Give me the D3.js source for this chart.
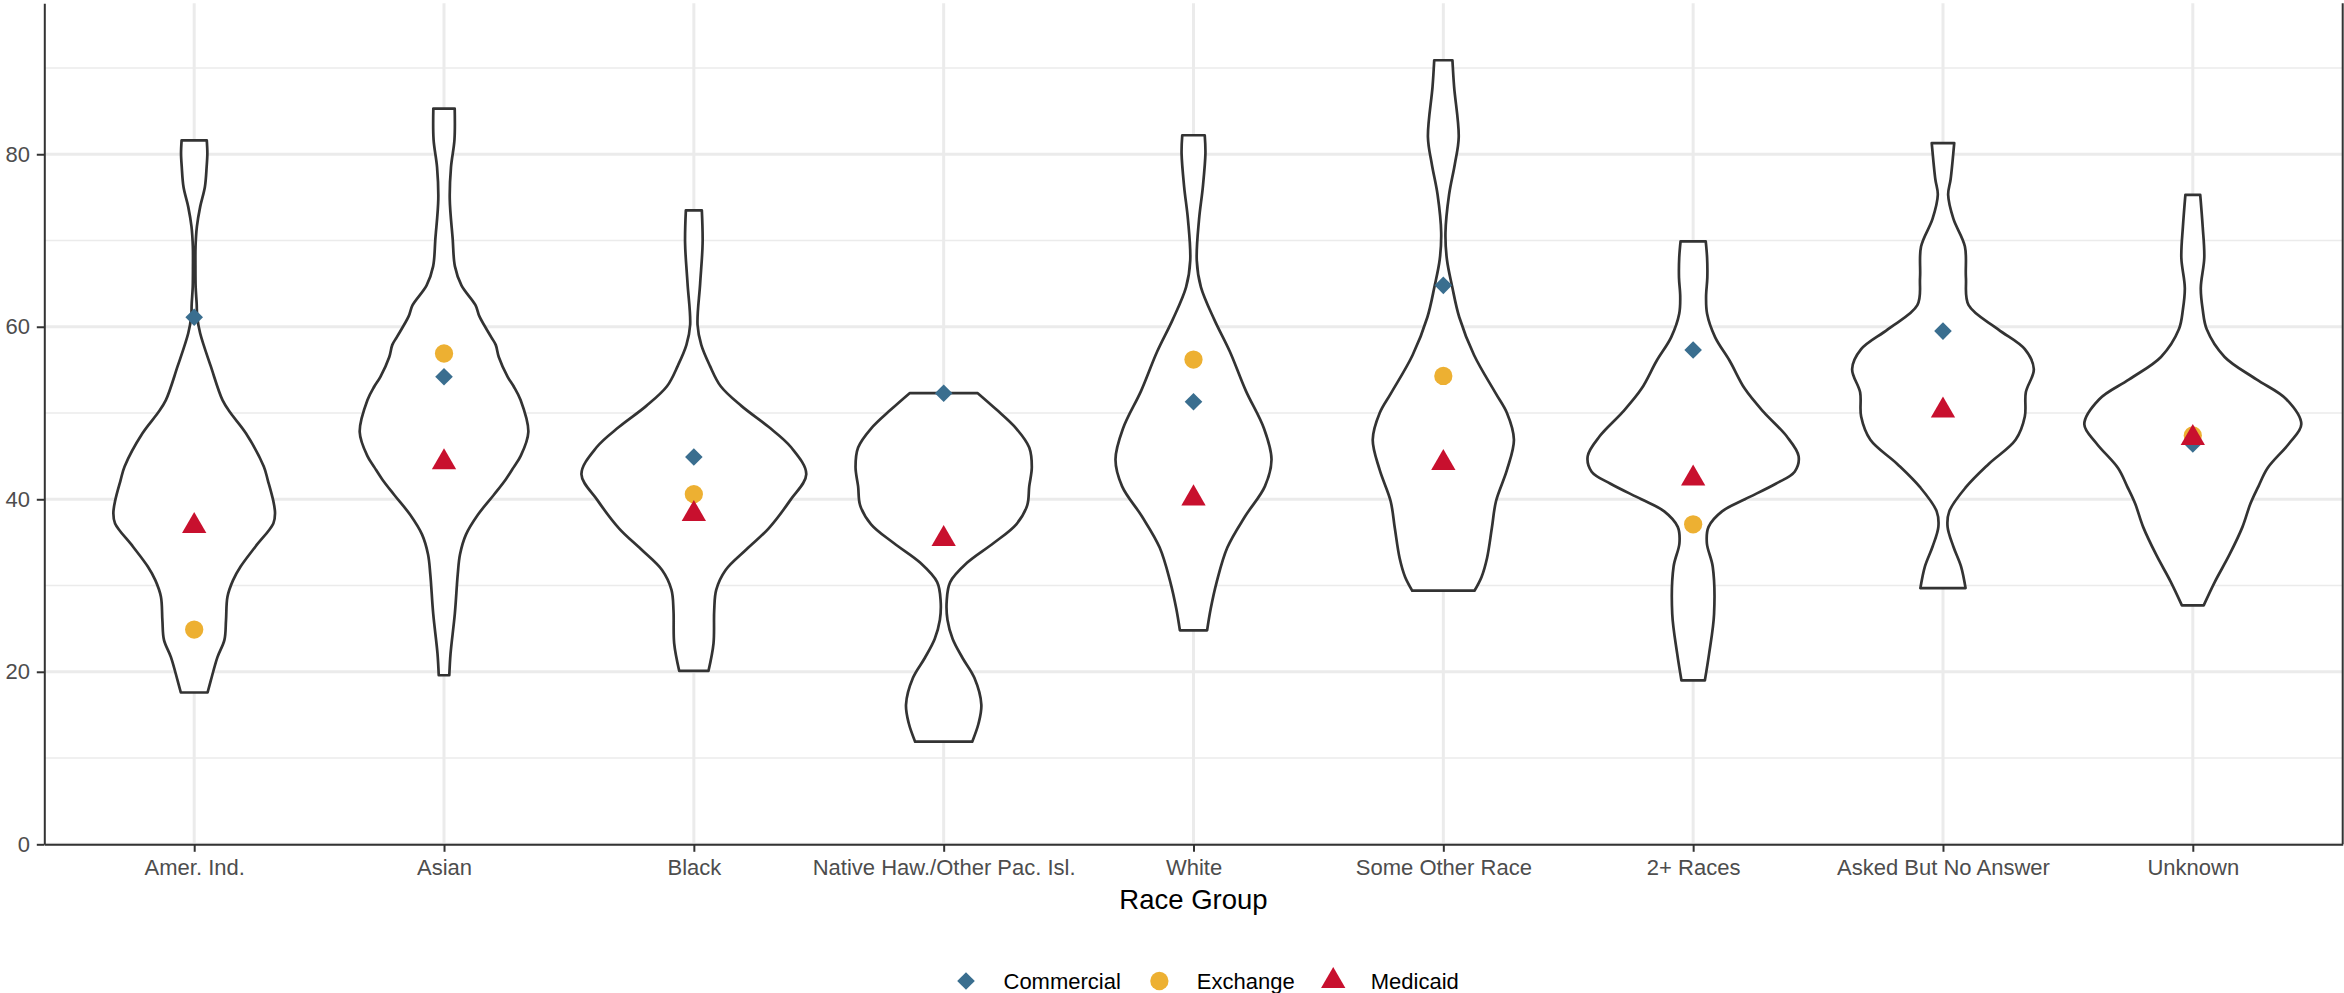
<!DOCTYPE html>
<html>
<head>
<meta charset="utf-8">
<script src="https://cdn.jsdelivr.net/npm/d3@7"></script>
<style>
  html, body { margin: 0; padding: 0; background: #fff; }
  svg { display: block; font-family: "Liberation Sans", Arial, Helvetica, sans-serif; }
</style>
</head>
<body>
<div id="viz-container"></div>
<script>
// Race groups on the x axis
const categories = [
    "Amer. Ind.", "Asian", "Black", "Native Haw./Other Pac. Isl.", "White",
    "Some Other Race", "2+ Races", "Asked But No Answer", "Unknown"
];

// Point values per payer (null = not shown)
const commercial = [61.1, 54.2, 44.9, 52.3, 51.3, 64.8, 57.3, 59.5, 46.4];
const exchange   = [24.9, 56.9, 40.6, null, 56.2, 54.3, 37.1, null, 47.4];
const medicaid   = [36.9, 44.3, 38.3, 35.4, 40.1, 44.2, 42.4, 50.3, 47.1];

const seriesNames = ["Commercial", "Exchange", "Medicaid"];
const yTicks = [0, 20, 40, 60, 80];
const yMinorTicks = [10, 30, 50, 70, 90];
const yMax = 97.5;

// Violin density profiles: [value, relative density]
const violinAmerInd = [[17.6,.119],[19,.148],[21.7,.207],[23.7,.269],[26,.283],[28.7,.296],[30.6,.345],[32.2,.413],[34.5,.544],[37.2,.704],[38.4,.719],[39.9,.702],[42.2,.655],[43.8,.619],[47.65,.46],[50,.324],[51.5,.252],[55.4,.148],[59.25,.053],[61.1,.027],[62.7,.022],[64.6,.013],[67,.011],[69.3,.012],[71.6,.024],[73.9,.053],[76.2,.095],[78.6,.111],[80.1,.117],[81.6,.112]];
const violinAsian = [[19.6,.047],[22.1,.058],[26.7,.096],[31.3,.122],[33.6,.142],[35.9,.195],[38.2,.301],[40.5,.442],[42.3,.549],[43.7,.619],[45,.681],[47.8,.75],[51.5,.681],[53.1,.619],[54.2,.566],[56.5,.487],[57.9,.46],[58.8,.42],[61.2,.315],[62.5,.28],[64.8,.155],[67,.097],[70.2,.077],[74.8,.051],[78.5,.062],[81.7,.093],[85.3,.095]];
const violinBlack = [[20.1,.13],[23.3,.175],[27.1,.181],[29.5,.199],[31.8,.283],[34.2,.469],[36.6,.664],[39.9,.858],[42.9,1],[46,.867],[48.4,.664],[50.8,.425],[53.1,.239],[55.5,.142],[57.9,.066],[60.2,.033],[65,.056],[69.7,.078],[73.5,.071]];
const violinNative = [[11.9,.254],[14,.31],[16.2,.335],[19.3,.273],[21.6,.168],[23.8,.08],[26,.034],[28.2,.027],[30.4,.058],[32.6,.205],[34.9,.442],[37.1,.646],[39.3,.743],[41.5,.761],[43.7,.784],[46,.761],[48.2,.646],[50.4,.469],[52.3,.303]];
const violinWhite = [[24.8,.121],[27.3,.153],[30.4,.206],[34.4,.301],[38,.458],[41.5,.635],[44.6,.694],[48.2,.627],[52.6,.465],[57.1,.324],[60.8,.186],[64.6,.066],[67.7,.029],[72.4,.049],[76.2,.083],[80.1,.106],[82.2,.1]];
const violinOther = [[29.4,.277],[31,.34],[33.2,.389],[36.7,.432],[39.8,.469],[43.4,.566],[46.9,.628],[50,.566],[52.3,.465],[56.7,.274],[61.1,.142],[64.7,.078],[67.8,.032],[70.9,.019],[75.3,.051],[78.9,.103],[82,.137],[87.8,.096],[90.9,.081]];
const violinTwoPlus = [[19,.104],[22.1,.142],[26.7,.186],[32.2,.174],[34.9,.122],[36.8,.137],[38.6,.257],[40,.46],[41.8,.735],[43.2,.903],[45,.938],[47.3,.832],[50.1,.628],[52.8,.46],[56,.327],[58.8,.195],[61.5,.124],[63.5,.115],[65.7,.126],[68,.124],[69.9,.112]];
const violinAsked = [[29.7,.201],[32.2,.161],[34.5,.093],[36.8,.041],[38.6,.056],[41.4,.204],[44.1,.407],[46.9,.646],[49.6,.728],[52.4,.737],[55.1,.808],[57.4,.728],[59.7,.491],[62.5,.228],[65.7,.204],[69.3,.195],[72.5,.093],[75.3,.046],[77.1,.068],[81.3,.1]];
const violinUnknown = [[27.7,.097],[30.4,.195],[33.6,.327],[36.8,.442],[39.5,.513],[41.5,.584],[43.6,.664],[46.5,.858],[48.7,.965],[51.6,.832],[53.9,.566],[56.5,.283],[59.7,.124],[62,.088],[64.5,.071],[68,.102],[71.6,.088],[75.3,.066]];

const violins = [violinAmerInd, violinAsian, violinBlack, violinNative, violinWhite,
                 violinOther, violinTwoPlus, violinAsked, violinUnknown];

function drawViolinChart({
    container = "#viz-container",
    width = 2344,
    height = 993,
    panel = { left: 44.3, right: 2342.7, top: 3.3, bottom: 844.3 }
}) {
    const svg = d3.select(container).append("svg")
        .attr("width", width)
        .attr("height", height);

    // Scales
    const x = d3.scalePoint()
        .domain(categories)
        .range([panel.left, panel.right])
        .padding(0.6);

    const y = d3.scaleLinear()
        .domain([0, yMax])
        .range([panel.bottom, panel.top]);

    // violin half width, ggplot width 0.9 of a category step
    const w = d3.scaleLinear()
        .domain([0, 1])
        .range([0, 0.45 * x.step()]);

    const color = d3.scaleOrdinal()
        .domain(seriesNames)
        .range(["#3a6e8f", "#edb032", "#c8102e"]);

    const shape = d3.scaleOrdinal()
        .domain(seriesNames)
        .range([
            d3.symbol().type(d3.symbolSquare).size(155)(),
            d3.symbol().type(d3.symbolCircle).size(262)(),
            d3.symbol().type(d3.symbolTriangle).size(256)()
        ]);
    const rotate = { Commercial: 45, Exchange: 0, Medicaid: 0 };

    // Grid lines
    const grid = svg.append("g");
    grid.selectAll(".minor")
        .data(yMinorTicks)
        .enter().append("line")
        .attr("x1", panel.left).attr("x2", panel.right)
        .attr("y1", d => y(d)).attr("y2", d => y(d))
        .attr("stroke", "#ebebeb").attr("stroke-width", 1.6);
    grid.selectAll(".major")
        .data(yTicks)
        .enter().append("line")
        .attr("x1", panel.left).attr("x2", panel.right)
        .attr("y1", d => y(d)).attr("y2", d => y(d))
        .attr("stroke", "#ebebeb").attr("stroke-width", 3);
    grid.selectAll(".vmajor")
        .data(categories)
        .enter().append("line")
        .attr("x1", d => x(d)).attr("x2", d => x(d))
        .attr("y1", panel.top).attr("y2", panel.bottom)
        .attr("stroke", "#ebebeb").attr("stroke-width", 3);

    // Violins
    const area = d3.area()
        .curve(d3.curveCatmullRom.alpha(0.5))
        .y(d => y(d[0]));

    svg.append("g").selectAll("path")
        .data(violins)
        .enter().append("path")
        .attr("d", (prof, i) => {
            const cx = x(categories[i]);
            return area.x0(d => cx - w(d[1])).x1(d => cx + w(d[1]))(prof);
        })
        .attr("fill", "#fff")
        .attr("stroke", "#333")
        .attr("stroke-width", 2.7)
        .attr("stroke-linejoin", "round");

    // Points, drawn Commercial -> Exchange -> Medicaid
    const seriesValues = [commercial, exchange, medicaid];
    seriesNames.forEach((name, s) => {
        const pts = categories
            .map((c, i) => ({ cat: c, v: seriesValues[s][i] }))
            .filter(d => d.v != null);
        svg.append("g").selectAll("path")
            .data(pts)
            .enter().append("path")
            .attr("d", shape(name))
            .attr("transform", d => `translate(${x(d.cat)},${y(d.v)}) rotate(${rotate[name]})`)
            .attr("fill", color(name));
    });

    // Axes
    const yAxis = svg.append("g")
        .attr("transform", `translate(${panel.left},0)`)
        .call(d3.axisLeft(y).tickValues(yTicks).tickSize(7.5).tickSizeOuter(0).tickPadding(6.8));

    const xAxis = svg.append("g")
        .attr("transform", `translate(0,${panel.bottom})`)
        .call(d3.axisBottom(x).tickSize(7.5).tickSizeOuter(0).tickPadding(7.6));

    [xAxis, yAxis].forEach(a => {
        a.select(".domain").attr("stroke", "#333").attr("stroke-width", 2);
        a.selectAll(".tick line").attr("stroke", "#333").attr("stroke-width", 2);
        a.selectAll(".tick text")
            .style("font-size", "22px")
            .style("fill", "#4d4d4d")
            .style("font-family", "'Liberation Sans', Arial, sans-serif");
    });

    // Right panel edge
    svg.append("line")
        .attr("x1", panel.right).attr("x2", panel.right)
        .attr("y1", panel.top).attr("y2", panel.bottom)
        .attr("stroke", "#333").attr("stroke-width", 2);

    // X axis title
    svg.append("text")
        .attr("x", (panel.left + panel.right) / 2)
        .attr("y", 909)
        .attr("text-anchor", "middle")
        .style("font-size", "27.5px")
        .style("fill", "#000")
        .text("Race Group");

    // Legend
    const legend = svg.append("g").attr("transform", "translate(0,981)");
    let lx = 966;
    seriesNames.forEach(name => {
        legend.append("path")
            .attr("d", shape(name))
            .attr("transform", `translate(${lx},0) rotate(${rotate[name]})`)
            .attr("fill", color(name));
        const t = legend.append("text")
            .attr("x", lx + 37.5)
            .attr("y", 0)
            .attr("dy", "0.35em")
            .style("font-size", "22px")
            .style("fill", "#000")
            .text(name);
        lx += 37.5 + t.node().getComputedTextLength() + 38.5;
    });
}

drawViolinChart({ container: "#viz-container" });
</script>
</body>
</html>
